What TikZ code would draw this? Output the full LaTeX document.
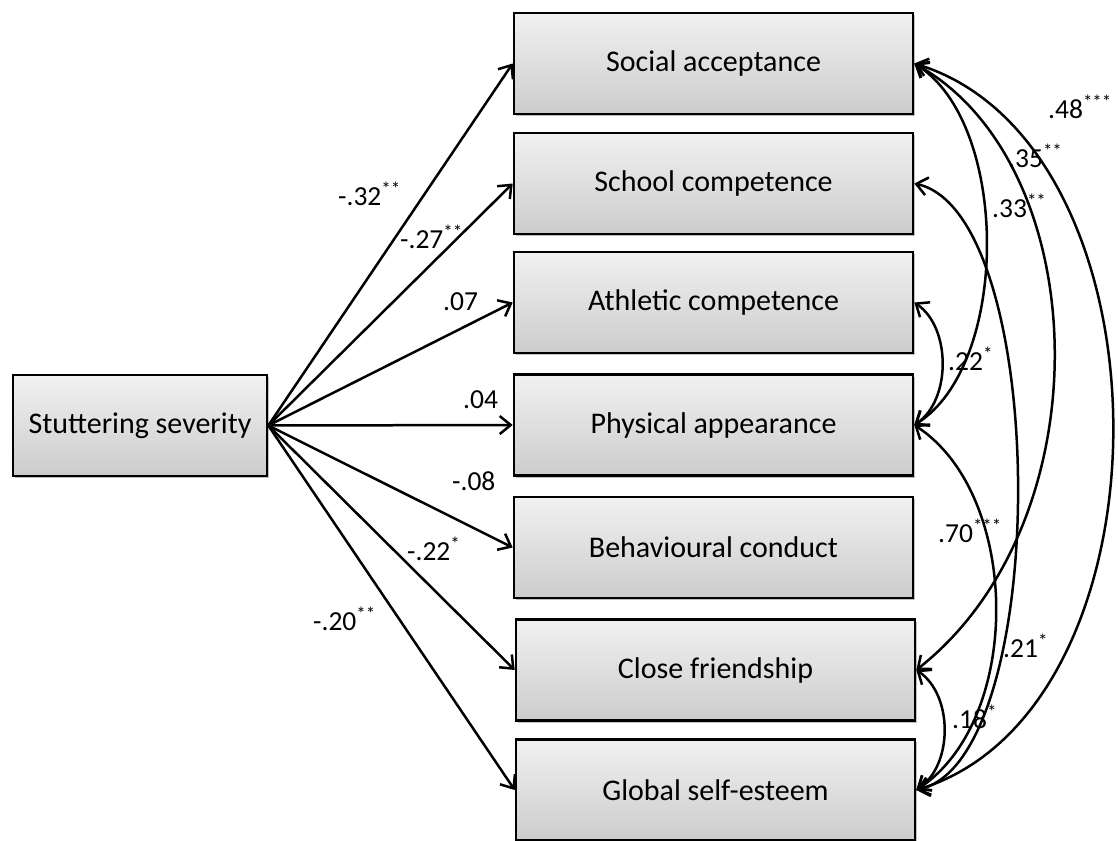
\documentclass[tikz,border=0pt]{standalone}
\usepackage{fontspec}
\setmainfont{Carlito}
\usetikzlibrary{arrows.meta,calc,shadows}
\newcommand{\sigstars}[1]{\raisebox{0.36em}{\fontsize{19}{19}\selectfont #1}}
\begin{document}
\begin{tikzpicture}[x=1pt,y=-1pt,
  >={Straight Barb[length=11pt,width=18pt]},
  box/.style={draw=black,line width=2.6pt,
    top color={rgb,255:red,241;green,241;blue,241},
    bottom color={rgb,255:red,204;green,204;blue,204},
    minimum width=399pt,minimum height=101pt,inner sep=0pt,
    font=\fontsize{30}{36}\selectfont,
    drop shadow={shadow xshift=2pt,shadow yshift=-2pt,opacity=0.25,fill=black}},
  effect/.style={line width=2.5pt,->},
  corr/.style={line width=2.5pt,<->},
  lab/.style={font=\fontsize{27.5}{32}\selectfont,inner sep=0pt,anchor=base west}
]
\useasboundingbox (0,0) rectangle (1118,840);

% nodes
\node[box,minimum width=254pt] (ss) at (140,425.5) {Stuttering severity};
\node[box] (sa) at (713.5,63.5) {Social acceptance};
\node[box] (sc) at (713.5,183.5) {School competence};
\node[box] (ac) at (713.5,302.5) {Athletic competence};
\node[box] (pa) at (713.5,425) {Physical appearance};
\node[box] (bc) at (713.5,547.5) {Behavioural conduct};
\node[box] (cf) at (715.5,670) {Close friendship};
\node[box] (gs) at (715.5,790) {Global self-esteem};

% effects
\draw[effect] (ss.east) -- (sa.west);
\draw[effect] (ss.east) -- (sc.west);
\draw[effect] (ss.east) -- (ac.west);
\draw[effect] (ss.east) -- (pa.west);
\draw[effect] (ss.east) -- (bc.west);
\draw[effect] (ss.east) -- (cf.west);
\draw[effect] (ss.east) -- (gs.west);

% correlations
\draw[corr] (sa.east) .. controls ($(sa.east)+(96,60)$) and ($(pa.east)+(96,-60)$) .. (pa.east);
\draw[corr] (sa.east) .. controls ($(sa.east)+(180,100)$) and ($(cf.east)+(190,-150)$) .. (cf.east);
\draw[corr] (sa.east) .. controls ($(sa.east)+(263,80)$) and ($(gs.east)+(263,-80)$) .. (gs.east);
\draw[corr] (sc.east) .. controls ($(sc.east)+(136,30)$) and ($(gs.east)+(136,-30)$) .. (gs.east);
\draw[corr] (pa.east) .. controls ($(pa.east)+(107,70)$) and ($(gs.east)+(107,-70)$) .. (gs.east);
\draw[corr] (ac.east) .. controls ($(ac.east)+(37,25)$) and ($(pa.east)+(37,-25)$) .. (pa.east);
\draw[corr] (cf.east) .. controls ($(cf.east)+(37,25)$) and ($(gs.east)+(37,-25)$) .. (gs.east);

% path labels
\node[lab] (l1) at (338,205) {-.32\sigstars{**}};
\node[lab] (l2) at (400,248) {-.27\sigstars{**}};
\node[lab] (l3) at (443,310) {.07};
\node[lab] (l4) at (463,408) {.04};
\node[lab] (l5) at (452,490) {-.08};
\node[lab] (l6) at (407,560) {-.22\sigstars{*}};
\node[lab] (l7) at (313,630) {-.20\sigstars{**}};
% correlation labels
\node[lab] (r1) at (1048,118) {.48\sigstars{***}};
\node[lab] (r2) at (1008,167) {.35\sigstars{**}};
\node[lab] (r3) at (992,217) {.33\sigstars{**}};
\node[lab] (r4) at (948,370) {.22\sigstars{*}};
\node[lab] (r5) at (938,542) {.70\sigstars{***}};
\node[lab] (r6) at (1003,657) {.21\sigstars{*}};
\node[lab] (r7) at (952,728) {.18\sigstars{*}};
\end{tikzpicture}
\end{document}
